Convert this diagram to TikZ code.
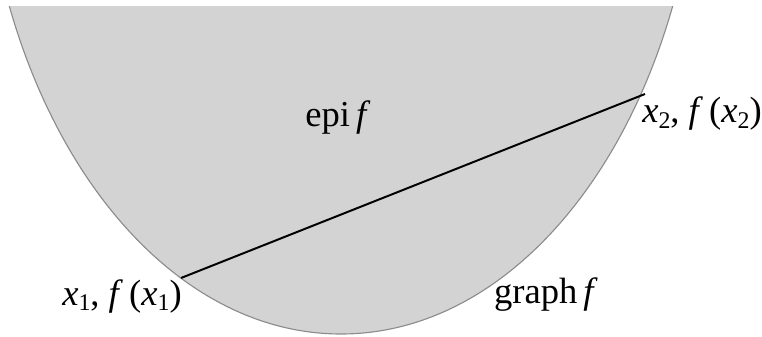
\documentclass[tikz,border=0pt]{standalone}
\usepackage{fontspec}
\setmainfont{Liberation Serif}
\definecolor{epigris}{RGB}{211,211,211}
\definecolor{bordegris}{RGB}{140,140,140}
\usetikzlibrary{positioning,calc}
\newcommand{\xsub}[1]{\textit{x}\raisebox{-0.3ex}{\fontsize{17}{20}\selectfont #1}}

\begin{document}
\begin{tikzpicture}[x=0.025cm,y=0.025cm,
        lbl/.style={anchor=base,font=\fontsize{26}{30}\selectfont,inner sep=0pt},
        cuerda/.style={black,line width=1.4pt}]
        \useasboundingbox (0,0) rectangle (762,336);
        % region epi f (elipse recortada arriba)
        \begin{scope}
          \clip (0,0) rectangle (762,329);
          \fill[epigris] (341,539) ellipse [x radius=360,y radius=537];
          \draw[bordegris,line width=0.8pt] (341,539) ellipse [x radius=360,y radius=537];
        \end{scope}
        \coordinate (p1) at (181,58);
        \coordinate (p2) at (645,242);
        \draw[cuerda] (p1)--(p2);
        \node[lbl] (epi)   at (338,209) {epi\,\textit{f}};
        \node[lbl] (graf)  at (546,33)  {graph\,\textit{f}};
        \node[lbl] (x1)    at (122,31)  {\xsub{1}, \textit{f}\,(\xsub{1})};
        \node[lbl] (x2)    at (702,213) {\xsub{2}, \textit{f}\,(\xsub{2})};
      \end{tikzpicture}
\end{document}
